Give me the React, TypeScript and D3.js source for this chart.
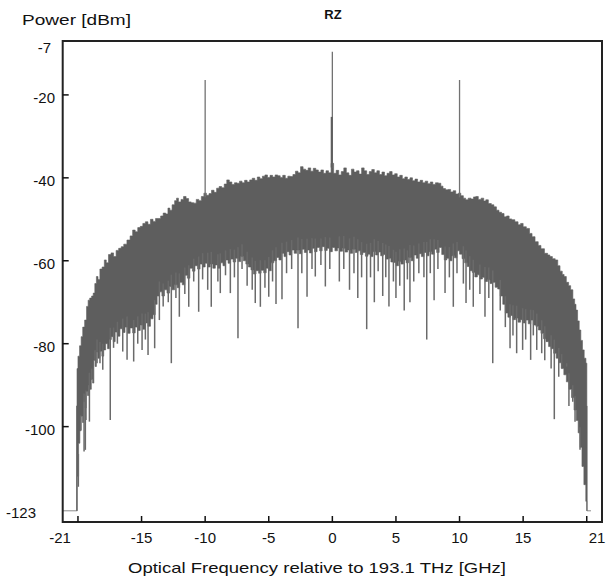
import React from 'react';
import * as d3 from 'd3';

// ---- data ----
// upper edge of the dense spectrum band: [frequency GHz, power dBm]
const upperEnvelope: [number, number][] = [
  [-20.1, -95], [-20.05, -86], [-19.95, -83], [-19.8, -80.5], [-19.7, -78.3], [-19.55, -76], [-19.4, -74.3],
  [-19.25, -71], [-19.15, -69.5], [-19.0, -69], [-18.85, -68.5], [-18.75, -67.8], [-18.6, -65.5], [-18.5, -63.8],
  [-18.35, -64.5], [-18.2, -62], [-18.0, -61.5], [-17.85, -59.8], [-17.7, -60.5], [-17.5, -58.5], [-17.3, -58.1],
  [-17.1, -59], [-16.9, -57.5], [-16.7, -57], [-16.5, -56.6], [-16.3, -56], [-16.0, -55], [-15.8, -54],
  [-15.6, -52.6], [-15.4, -53], [-15.2, -52], [-15.0, -51.7], [-14.8, -51], [-14.6, -50.6], [-14.4, -51.2],
  [-14.2, -50], [-14.0, -50.5], [-13.8, -49.8], [-13.6, -49.8], [-13.4, -49.2], [-13.2, -48.5], [-13.0, -48.7],
  [-12.85, -47.3], [-12.7, -47.8], [-12.5, -46.5], [-12.3, -45.5], [-12.2, -44.9], [-12.0, -45.8], [-11.8, -45.2],
  [-11.6, -44.5], [-11.4, -45], [-11.2, -45.8], [-11.0, -46], [-10.8, -46.1], [-10.6, -45.2], [-10.4, -45.5],
  [-10.2, -44.5], [-10.0, -43.7], [-9.8, -44.2], [-9.6, -43.8], [-9.4, -43], [-9.2, -43.5], [-9.0, -42.5],
  [-8.8, -42.1], [-8.6, -42.4], [-8.4, -41.5], [-8.2, -40.5], [-8.0, -41], [-7.8, -41.6], [-7.6, -41.2],
  [-7.4, -41.3], [-7.2, -40.8], [-7.0, -41.2], [-6.8, -40.6], [-6.6, -41], [-6.4, -40.5], [-6.2, -40.1],
  [-6.0, -40.6], [-5.8, -39.8], [-5.6, -40.2], [-5.4, -39.6], [-5.2, -39.3], [-5.0, -39.9], [-4.8, -39.4],
  [-4.6, -39.8], [-4.4, -39.3], [-4.2, -39.5], [-4.0, -39.9], [-3.8, -39.4], [-3.6, -40.1], [-3.4, -39.6],
  [-3.2, -39.7], [-3.0, -39.2], [-2.8, -38.4], [-2.6, -38.8], [-2.4, -37.3], [-2.2, -37.9], [-2.0, -38.2],
  [-1.8, -37.6], [-1.6, -38.4], [-1.4, -37.7], [-1.2, -38.1], [-1.0, -38.6], [-0.8, -38.1], [-0.6, -38.9],
  [-0.4, -38.3], [-0.2, -38.8], [0.0, -36.5], [0.2, -38.9], [0.4, -38.2], [0.6, -39.3], [0.8, -38.5],
  [1.0, -37.6], [1.2, -38.8], [1.4, -39.4], [1.6, -37.9], [1.8, -38.6], [2.0, -38.3], [2.2, -39.1],
  [2.4, -37.6], [2.6, -38.3], [2.8, -39.2], [3.0, -38.5], [3.2, -38.0], [3.4, -38.8], [3.6, -38.3],
  [3.8, -39.2], [4.0, -38.6], [4.2, -39.5], [4.4, -38.9], [4.6, -38.5], [4.8, -39.3], [5.0, -39.0],
  [5.2, -39.8], [5.4, -39.4], [5.6, -40.2], [5.8, -39.8], [6.0, -40.4], [6.2, -40.0], [6.4, -40.7],
  [6.6, -40.3], [6.8, -41.0], [7.0, -40.6], [7.2, -41.2], [7.4, -40.8], [7.6, -41.4], [7.8, -41.0],
  [8.0, -41.6], [8.2, -41.2], [8.46, -41.3], [8.6, -42.0], [8.8, -42.6], [9.0, -42.9], [9.2, -42.8],
  [9.4, -43.4], [9.6, -43.1], [9.8, -43.9], [10.0, -43.7], [10.2, -44.3], [10.4, -44.9], [10.56, -45.3],
  [10.8, -44.9], [11.0, -45.1], [11.2, -44.6], [11.35, -44.5], [11.6, -45.2], [11.8, -44.9], [12.0, -45.6],
  [12.13, -45.3], [12.4, -46.2], [12.6, -46.5], [12.8, -47.0], [13.0, -47.8], [13.2, -48.3], [13.4, -48.6],
  [13.6, -49.4], [13.8, -49.2], [14.0, -49.9], [14.2, -50.1], [14.5, -50.6], [14.7, -51.3], [14.9, -51.0],
  [15.1, -51.8], [15.4, -52.2], [15.6, -53.4], [15.8, -54.2], [16.07, -55.4], [16.3, -56.3], [16.5, -57.1],
  [16.85, -58.2], [17.0, -58.6], [17.2, -59.0], [17.4, -59.5], [17.64, -59.8], [17.8, -61.2], [18.0, -62.5],
  [18.15, -63.3], [18.29, -63.8], [18.5, -65.2], [18.65, -66.0], [18.82, -67.0], [19.0, -69.2], [19.1, -70.5],
  [19.21, -71.9], [19.35, -74.5], [19.47, -76.7], [19.6, -79.2], [19.73, -81.5], [19.87, -83.5], [20.0, -84.7],
  [20.02, -95],
];

// lower edge of the dense band
const lowerEnvelope: [number, number][] = [
  [-20.1, -120.3], [-20.0, -112], [-19.9, -104], [-19.8, -101], [-19.7, -97.5], [-19.6, -99], [-19.5, -94],
  [-19.4, -95.5], [-19.3, -91.5], [-19.2, -92.5], [-19.1, -90], [-19.0, -91], [-18.9, -88.5], [-18.8, -89.5],
  [-18.7, -84], [-18.6, -85.5], [-18.5, -82], [-18.35, -83.5], [-18.2, -81.8], [-18.05, -83], [-17.9, -81.5],
  [-17.75, -80], [-17.6, -81.2], [-17.45, -79], [-17.3, -78.3], [-17.15, -79.5], [-17.0, -77.2], [-16.8, -78.2],
  [-16.6, -76.4], [-16.4, -77.3], [-16.2, -76], [-16.0, -77.5], [-15.8, -76.2], [-15.6, -77.4], [-15.4, -76],
  [-15.2, -76.8], [-15.0, -75.5], [-14.8, -76.5], [-14.6, -75], [-14.4, -75.8], [-14.2, -74], [-14.0, -73],
  [-13.85, -70.5], [-13.7, -68.5], [-13.5, -67.5], [-13.3, -68.5], [-13.1, -67], [-12.9, -67.8], [-12.7, -66.2],
  [-12.5, -67], [-12.3, -65.8], [-12.1, -66.5], [-11.9, -65.2], [-11.7, -65.8], [-11.5, -63.5], [-11.3, -64.2],
  [-11.1, -61.8], [-10.9, -62.5], [-10.7, -61.2], [-10.5, -62], [-10.3, -60.8], [-10.1, -61.5], [-9.9, -60.6],
  [-9.7, -61.5], [-9.5, -60.8], [-9.3, -61.8], [-9.1, -61], [-8.9, -61.8], [-8.7, -60.5], [-8.5, -61.2],
  [-8.3, -59.8], [-8.1, -60.6], [-7.9, -59.6], [-7.7, -60.3], [-7.5, -59.4], [-7.3, -60.2], [-7.1, -59],
  [-6.9, -60], [-6.7, -60.8], [-6.5, -61.5], [-6.3, -62.2], [-6.1, -63.2], [-5.9, -62.4], [-5.7, -63],
  [-5.5, -62.3], [-5.3, -62.9], [-5.1, -61.8], [-4.9, -62.4], [-4.7, -60.5], [-4.5, -60], [-4.3, -59.2],
  [-4.1, -59.8], [-3.9, -58.2], [-3.7, -59], [-3.5, -57.8], [-3.3, -58.6], [-3.1, -57.4], [-2.9, -58.2],
  [-2.7, -57.4], [-2.5, -58.3], [-2.3, -57.2], [-2.1, -58], [-1.9, -57.4], [-1.7, -58.1], [-1.5, -57],
  [-1.3, -57.8], [-1.1, -56.8], [-0.9, -57.6], [-0.7, -56.6], [-0.5, -57.5], [-0.3, -57], [-0.1, -57.8],
  [0.1, -56.8], [0.3, -57.6], [0.5, -56.9], [0.7, -57.7], [0.9, -57], [1.1, -57.9], [1.3, -57.4],
  [1.5, -58.2], [1.7, -57.2], [1.9, -58], [2.1, -57.6], [2.3, -58.5], [2.5, -58], [2.7, -58.9],
  [2.9, -58.4], [3.1, -59], [3.3, -57.8], [3.5, -58.6], [3.7, -57.9], [3.9, -58.8], [4.1, -58.5],
  [4.3, -59.6], [4.5, -59.4], [4.7, -60.3], [4.9, -60.4], [5.1, -61.2], [5.3, -60.2], [5.5, -60.8],
  [5.7, -59.8], [5.9, -60.5], [6.1, -59.2], [6.3, -60], [6.5, -58.6], [6.7, -59.4], [6.9, -58.3],
  [7.1, -59], [7.3, -58], [7.5, -58.8], [7.7, -57.8], [7.9, -58.4], [8.1, -57.2], [8.3, -58],
  [8.5, -56.8], [8.7, -58.5], [8.9, -59.8], [9.1, -59.4], [9.3, -60], [9.5, -58.8], [9.7, -59.3],
  [9.9, -57.6], [10.1, -58.4], [10.3, -59.5], [10.5, -60.5], [10.7, -61.4], [10.9, -62.4], [11.1, -62.8],
  [11.3, -63.9], [11.5, -63.4], [11.7, -64.4], [11.9, -64], [12.1, -65], [12.3, -64.6], [12.5, -65.5],
  [12.7, -65.2], [12.9, -66.4], [13.1, -66.8], [13.3, -68.5], [13.5, -70.5], [13.7, -72.6], [13.9, -73.6],
  [14.1, -73.2], [14.3, -74.2], [14.5, -73.8], [14.7, -74.8], [14.9, -74.2], [15.1, -75], [15.3, -74.3],
  [15.5, -75.2], [15.7, -74.3], [15.9, -75.5], [16.1, -75.8], [16.3, -76.7], [16.5, -77.5], [16.7, -78.8],
  [16.9, -79.5], [17.1, -80.7], [17.3, -81.2], [17.5, -82.3], [17.7, -83.5], [17.9, -84.6], [18.1, -86],
  [18.3, -87.5], [18.5, -89.2], [18.7, -91], [18.9, -93], [19.1, -96], [19.25, -98.5], [19.4, -101.5],
  [19.55, -105], [19.7, -109.6], [19.85, -114], [20.0, -118], [20.02, -120.3],
];

// isolated downward spikes below the band
const dips: [number, number][] = [
  [-19.97, -114.5], [-19.78, -100.8], [-19.52, -106], [-19.42, -105.6], [-19.37, -98.4], [-19.1, -98.8],
  [-18.92, -88.7], [-18.66, -84], [-18.5, -84.7], [-18.27, -84.7], [-18.05, -86.3], [-17.46, -98.4],
  [-17.2, -81], [-16.9, -80], [-16.48, -81.9], [-16.14, -83.9], [-15.62, -84.3], [-15.3, -80], [-14.96, -81.5],
  [-14.7, -79], [-14.49, -82.7], [-13.97, -81.1], [-13.6, -74.3], [-13.3, -71], [-12.9, -70], [-12.66, -84.7],
  [-12.3, -69], [-12.03, -73.5], [-11.6, -68], [-11.29, -71.1], [-10.9, -65], [-10.51, -72.3], [-10.2, -64.5],
  [-9.8, -67], [-9.52, -71.1], [-9.0, -65], [-8.81, -67.8], [-8.4, -63.5], [-8.02, -67.8], [-7.7, -64],
  [-7.42, -78.7], [-7.1, -62], [-6.7, -66], [-6.3, -67], [-6.06, -70.2], [-5.66, -71.1], [-5.3, -66.5],
  [-5.0, -68.7], [-4.7, -65], [-4.43, -70.4], [-3.96, -69.3], [-3.6, -63], [-3.2, -62], [-2.7, -76.3],
  [-2.4, -63], [-1.99, -68.7], [-1.6, -62], [-1.34, -63.8], [-0.9, -61], [-0.55, -66.2], [-0.2, -62],
  [0.55, -65], [0.9, -62], [1.35, -67], [1.7, -63], [2.0, -69], [2.3, -64], [2.7, -76.5], [3.0, -64],
  [3.3, -70], [3.6, -62.5], [3.96, -68.5], [4.2, -64], [4.45, -71], [4.8, -65], [5.0, -69], [5.3, -66],
  [5.65, -72], [5.9, -64.5], [6.1, -70], [6.4, -65], [6.8, -63], [7.2, -64], [7.42, -79], [7.7, -63],
  [8.0, -69.5], [8.3, -62], [8.86, -67.8], [9.2, -64], [9.51, -71.1], [9.8, -63], [10.3, -65.5],
  [10.51, -70.2], [10.8, -67], [11.08, -71.1], [11.6, -68], [12.0, -73.5], [12.3, -69], [12.61, -84.7],
  [13.2, -72], [13.6, -76], [13.97, -81.1], [14.2, -78], [14.49, -82.3], [14.96, -81.5], [15.2, -79],
  [15.59, -83.9], [15.8, -78], [16.07, -81.5], [16.46, -82.3], [16.7, -84], [17.2, -86], [17.45, -98.2],
  [17.8, -88], [18.03, -85.9], [18.42, -84.7], [18.6, -95], [18.9, -94], [19.08, -98.8], [19.47, -105.6],
];

// carrier tones rising above the band
const tones: [number, number][] = [[-10, -16.4], [0, -9.6], [10, -16.4]];
const centreToneShoulder: [number, number] = [-0.05, -25.3];
const floorLevel = -120.3;

const xTicks = [-20, -15, -10, -5, 0, 5, 10, 15, 20];
const xLabels = [-15, -10, -5, 0, 5, 10, 15];
const yTicks = [-20, -40, -60, -80, -100];
const yLabels = [-20, -40, -60, -80, -100];

const W = 607;
const H = 577;
const FONT = "'Liberation Sans', Arial, Helvetica, sans-serif";
const BAND = '#5e5e5e';

export default function App() {
  const x = d3.scaleLinear().domain([-21.2, 21.2]).range([62.7, 602]);
  const y = d3.scaleLinear().domain([-123, -7]).range([522, 41]);

  const upperAt = d3.scaleLinear().domain(upperEnvelope.map(d => d[0])).range(upperEnvelope.map(d => d[1])).clamp(true);
  const lowerAt = d3.scaleLinear().domain(lowerEnvelope.map(d => d[0])).range(lowerEnvelope.map(d => d[1])).clamp(true);

  const stepLine = d3.line<[number, number]>().x(d => x(d[0])).y(d => y(d[1])).curve(d3.curveStep);
  const bandPath =
    (stepLine(upperEnvelope) || '') +
    (stepLine([...lowerEnvelope].reverse()) || '').replace(/^M/, 'L') +
    'Z';

  const leftF = upperEnvelope[0][0];
  const rightF = upperEnvelope[upperEnvelope.length - 1][0];
  const edgePath =
    `M${x(-21.2)},${y(floorLevel)}H${x(leftF)}V${y(upperEnvelope[0][1])}` +
    `M${x(rightF)},${y(upperEnvelope[upperEnvelope.length - 1][1])}V${y(floorLevel)}H${x(rightF) + 4}`;

  return (
    <svg width={W} height={H} style={{ position: 'absolute', left: 0, top: 0, background: '#fff' }}
      fontFamily={FONT}>
      <rect x={0} y={0} width={W} height={H} fill="#fff" />
      {/* titles */}
      <text x={22} y={25} fontSize={15} fill="#111" textLength={109} lengthAdjust="spacingAndGlyphs">Power [dBm]</text>
      <text x={333} y={19} fontSize={13} fontWeight="bold" textAnchor="middle" fill="#111">RZ</text>
      <text x={128} y={573} fontSize={15} fill="#111" textLength={378} lengthAdjust="spacingAndGlyphs">
        Optical Frequency relative to 193.1 THz [GHz]
      </text>

      {/* spectrum */}
      <g>
        <path d={edgePath} fill="none" stroke="#8a8a8a" strokeWidth={1} />
        <path d={bandPath} fill={BAND} stroke={BAND} strokeWidth={0.6} strokeLinejoin="miter" />
        {dips.map(([f, v], i) => (
          <line key={'d' + i} x1={x(f)} x2={x(f)} y1={y(Math.min(lowerAt(f) + 3, upperAt(f)))} y2={y(v)}
            stroke="#6a6a6a" strokeWidth={1.5} />
        ))}
        {tones.map(([f, v], i) => (
          <line key={'t' + i} x1={x(f)} x2={x(f)} y1={y(upperAt(f) - 1)} y2={y(v)} stroke="#727272" strokeWidth={1.3} />
        ))}
        <line x1={x(centreToneShoulder[0])} x2={x(centreToneShoulder[0])} y1={y(upperAt(0) - 1)}
          y2={y(centreToneShoulder[1])} stroke={BAND} strokeWidth={2} />
      </g>

      {/* frame */}
      <rect x={62.7} y={41} width={602 - 62.7} height={522 - 41} fill="none" stroke="#222" strokeWidth={2} />

      {/* x ticks */}
      {xTicks.map(t => (
        <line key={'xt' + t} x1={x(t)} x2={x(t)} y1={522} y2={516} stroke="#111" strokeWidth={1.5} />
      ))}
      {xLabels.map(t => (
        <text key={'xl' + t} x={x(t)} y={543} fontSize={15} textAnchor="middle" fill="#111">{String(t)}</text>
      ))}
      <text x={60} y={543} fontSize={15} textAnchor="middle" fill="#111">-21</text>
      <text x={597} y={543} fontSize={15} textAnchor="middle" fill="#111">21</text>

      {/* y ticks */}
      {yTicks.map(t => (
        <line key={'yt' + t} x1={62.7} x2={68.7} y1={y(t)} y2={y(t)} stroke="#111" strokeWidth={1.5} />
      ))}
      {yLabels.map(t => (
        <text key={'yl' + t} x={55} y={y(t) + 8} fontSize={15} textAnchor="end" fill="#111">{String(t)}</text>
      ))}
      <text x={51} y={53} fontSize={15} textAnchor="end" fill="#111">-7</text>
      <text x={36} y={518} fontSize={15} textAnchor="end" fill="#111">-123</text>
    </svg>
  );
}
